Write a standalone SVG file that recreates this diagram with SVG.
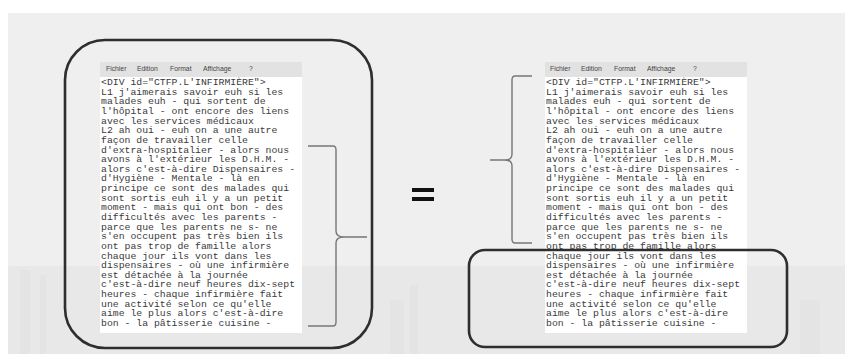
<svg xmlns="http://www.w3.org/2000/svg" width="845" height="354" viewBox="0 0 845 354">
<style>
.mono{font-family:"Liberation Mono","DejaVu Sans Mono",monospace;font-size:9.8px;fill:#3a3a3a}
.menu{font-family:"Liberation Sans",Arial,sans-serif;font-size:6.8px;fill:#444}
.frame{fill:none;stroke:#2e2e2e;stroke-width:2.6}
.brace{fill:none;stroke:#777;stroke-width:1.4}
</style>
<rect x="0" y="0" width="845" height="354" fill="#ffffff"/>
<rect x="8" y="13" width="837" height="341" fill="#efefef"/>
<g fill="#e8e8e8">
<rect x="8" y="266" width="837" height="88"/>
</g>
<g fill="#e3e3e3" opacity="0.7">
<rect x="20" y="270" width="10" height="84"/>
<rect x="40" y="275" width="6" height="79"/>
<rect x="390" y="300" width="14" height="54"/>
<rect x="410" y="285" width="8" height="69"/>
<rect x="800" y="300" width="20" height="54"/>
</g>
<g id="panel-left">
<rect x="100" y="62" width="202" height="15" fill="#e2e2e2"/>
<rect x="100" y="77" width="202" height="256" fill="#ffffff"/>
<text class="menu" y="71"><tspan x="106">Fichier</tspan><tspan x="137">Edition</tspan><tspan x="170">Format</tspan><tspan x="203">Affichage</tspan><tspan x="249">?</tspan></text>
<text class="mono" x="101" y="85">&lt;DIV id="CTFP.L'INFIRMIÈRE"&gt;</text>
<text class="mono" x="101" y="94.6">L1 j'aimerais savoir euh si les</text>
<text class="mono" x="101" y="104.3">malades euh - qui sortent de</text>
<text class="mono" x="101" y="113.9">l'hôpital - ont encore des liens</text>
<text class="mono" x="101" y="123.6">avec les services médicaux</text>
<text class="mono" x="101" y="133.2">L2 ah oui - euh on a une autre</text>
<text class="mono" x="101" y="142.8">façon de travailler celle</text>
<text class="mono" x="101" y="152.5">d'extra-hospitalier - alors nous</text>
<text class="mono" x="101" y="162.1">avons à l'extérieur les D.H.M. -</text>
<text class="mono" x="101" y="171.8">alors c'est-à-dire Dispensaires -</text>
<text class="mono" x="101" y="181.4">d'Hygiène - Mentale - là en</text>
<text class="mono" x="101" y="191">principe ce sont des malades qui</text>
<text class="mono" x="101" y="200.7">sont sortis euh il y a un petit</text>
<text class="mono" x="101" y="210.3">moment - mais qui ont bon - des</text>
<text class="mono" x="101" y="220">difficultés avec les parents -</text>
<text class="mono" x="101" y="229.6">parce que les parents ne s- ne</text>
<text class="mono" x="101" y="239.2">s'en occupent pas très bien ils</text>
<text class="mono" x="101" y="248.9">ont pas trop de famille alors</text>
<text class="mono" x="101" y="258.5">chaque jour ils vont dans les</text>
<text class="mono" x="101" y="268.2">dispensaires - où une infirmière</text>
<text class="mono" x="101" y="277.8">est détachée à la journée</text>
<text class="mono" x="101" y="287.4">c'est-à-dire neuf heures dix-sept</text>
<text class="mono" x="101" y="297.1">heures - chaque infirmière fait</text>
<text class="mono" x="101" y="306.7">une activité selon ce qu'elle</text>
<text class="mono" x="101" y="316.4">aime le plus alors c'est-à-dire</text>
<text class="mono" x="101" y="326">bon - la pâtisserie cuisine -</text>
</g>
<g id="panel-right">
<rect x="545" y="62" width="202" height="15" fill="#e2e2e2"/>
<rect x="545" y="77" width="202" height="256" fill="#ffffff"/>
<text class="menu" y="71"><tspan x="550">Fichier</tspan><tspan x="581">Edition</tspan><tspan x="614">Format</tspan><tspan x="647">Affichage</tspan><tspan x="693">?</tspan></text>
<text class="mono" x="546" y="85">&lt;DIV id="CTFP.L'INFIRMIÈRE"&gt;</text>
<text class="mono" x="546" y="94.6">L1 j'aimerais savoir euh si les</text>
<text class="mono" x="546" y="104.3">malades euh - qui sortent de</text>
<text class="mono" x="546" y="113.9">l'hôpital - ont encore des liens</text>
<text class="mono" x="546" y="123.6">avec les services médicaux</text>
<text class="mono" x="546" y="133.2">L2 ah oui - euh on a une autre</text>
<text class="mono" x="546" y="142.8">façon de travailler celle</text>
<text class="mono" x="546" y="152.5">d'extra-hospitalier - alors nous</text>
<text class="mono" x="546" y="162.1">avons à l'extérieur les D.H.M. -</text>
<text class="mono" x="546" y="171.8">alors c'est-à-dire Dispensaires -</text>
<text class="mono" x="546" y="181.4">d'Hygiène - Mentale - là en</text>
<text class="mono" x="546" y="191">principe ce sont des malades qui</text>
<text class="mono" x="546" y="200.7">sont sortis euh il y a un petit</text>
<text class="mono" x="546" y="210.3">moment - mais qui ont bon - des</text>
<text class="mono" x="546" y="220">difficultés avec les parents -</text>
<text class="mono" x="546" y="229.6">parce que les parents ne s- ne</text>
<text class="mono" x="546" y="239.2">s'en occupent pas très bien ils</text>
<text class="mono" x="546" y="248.9">ont pas trop de famille alors</text>
<text class="mono" x="546" y="258.5">chaque jour ils vont dans les</text>
<text class="mono" x="546" y="268.2">dispensaires - où une infirmière</text>
<text class="mono" x="546" y="277.8">est détachée à la journée</text>
<text class="mono" x="546" y="287.4">c'est-à-dire neuf heures dix-sept</text>
<text class="mono" x="546" y="297.1">heures - chaque infirmière fait</text>
<text class="mono" x="546" y="306.7">une activité selon ce qu'elle</text>
<text class="mono" x="546" y="316.4">aime le plus alors c'est-à-dire</text>
<text class="mono" x="546" y="326">bon - la pâtisserie cuisine -</text>
</g>
<g id="connectors">
<rect id="frame-left" class="frame" x="65" y="40" width="307" height="308" rx="40" ry="40"/>
<rect id="frame-right" class="frame" x="469" y="250" width="318" height="97" rx="16" ry="16"/>
<path id="brace-left" class="brace" d="M308,146 H333 Q336,146 336,150 V231 Q336,237 344,237 H367 M344,237 Q336,237 336,243 V322 Q336,326 333,326 H308"/>
<path id="brace-right" class="brace" d="M532,76 H515 Q512,76 512,80 V154 Q512,160 505,160 H490 M505,160 Q512,160 512,166 V239 Q512,243 515,243 H532"/>
</g>
<g id="equals" fill="#111">
<rect x="412" y="188" width="22" height="4"/>
<rect x="412" y="197" width="22" height="4"/>
</g>
</svg>
